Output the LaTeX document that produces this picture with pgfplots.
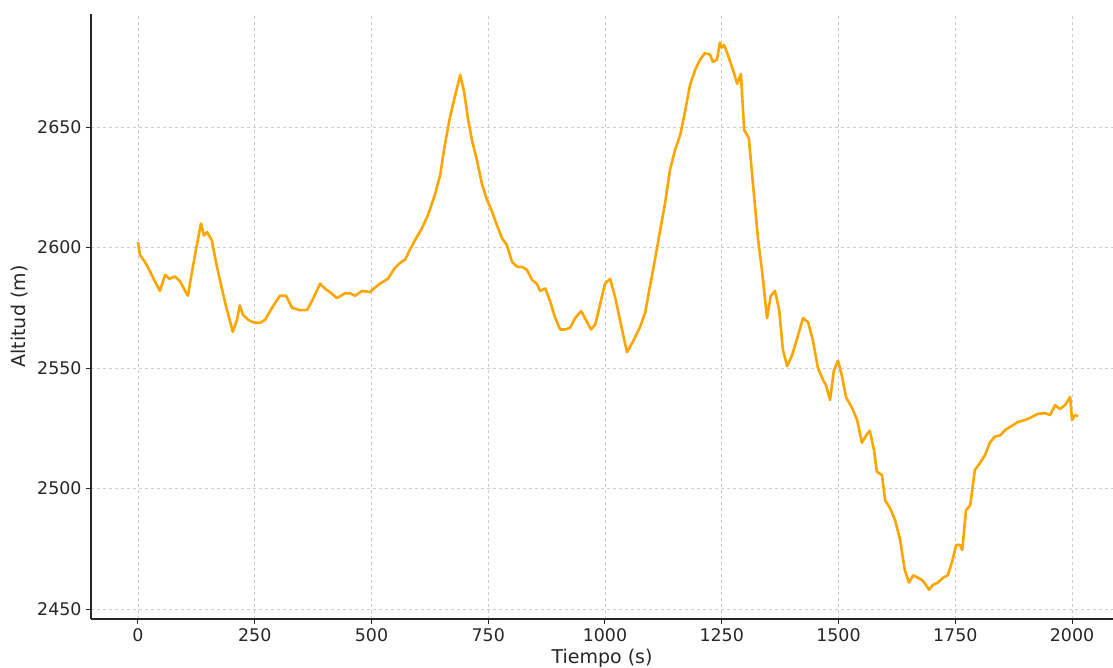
\documentclass[border=0pt]{standalone}
\usepackage{pgfplots}
\pgfplotsset{compat=1.18}
\usepackage{fontspec}
\setmainfont{DejaVu Sans}
\definecolor{txt}{HTML}{262626}
\definecolor{gridc}{HTML}{CCCCCC}
\definecolor{lineor}{HTML}{FFA500}
\newcommand{\tickfont}{\fontsize{17.4}{20}\selectfont}
\newcommand{\labfont}{\fontsize{19}{22}\selectfont}
\begin{document}
\begin{tikzpicture}
\begin{axis}[
  name=ax,
  at={(0,0)}, anchor=south west,
  scale only axis,
  width=1022pt, height=605pt,
  xmin=-100.6, xmax=2087.8,
  ymin=2445.85, ymax=2696.9,
  axis lines*=left,
  axis line style={txt, line width=1.1pt},
  xtick={0,250,500,750,1000,1250,1500,1750,2000},
  xticklabels={0,250,500,750,1000,1250,1500,1750,2000},
  ytick={2450,2500,2550,2600,2650},
  yticklabels={2450,2500,2550,2600,2650},
  tick align=outside,
  major tick length=5pt,
  tick style={txt, line width=1pt},
  grid=major,
  grid style={gridc, dashed, line width=0.7pt},
  tick label style={font=\tickfont, text=txt},
  xticklabel style={yshift=-1pt},
  yticklabel style={xshift=-1pt},
  label style={font=\labfont, text=txt},
  xlabel={Tiempo (s)},
  ylabel={Altitud (m)},
  xlabel style={at={(rel axis cs:0.5,0)}, anchor=base, yshift=-44pt},
  ylabel style={at={(rel axis cs:0,0.5)}, anchor=base, rotate=0, xshift=0pt, yshift=65pt},
  clip=false,
]
\addplot[lineor, line width=2.6pt, line join=round] coordinates {
(0,2602.3) (4,2597) (15,2594) (26,2590) (36,2586) (47,2582) (58,2588.6) (68,2587)
(79,2588) (90,2586) (101,2582) (107,2580) (113,2587) (124,2599) (135,2610) (141,2605)
(148,2606.4) (158,2603) (167,2594) (176,2586) (188,2576) (203,2565) (212,2570) (218,2576)
(225,2572) (236,2570) (246,2569) (261,2568.7) (272,2570) (287,2575) (304,2580) (317,2580)
(330,2575) (347,2574) (362,2574) (373,2578) (390,2585) (400,2583) (411,2581.5) (426,2579)
(443,2581) (454,2581) (465,2580) (480,2582) (497,2581.5) (505,2583) (518,2585) (535,2587)
(550,2591.5) (561,2593.6) (572,2595) (582,2599) (593,2603) (608,2608) (621,2613.5) (636,2622)
(647,2630) (657,2642.5) (668,2654) (679,2663) (690,2671.6) (698,2665) (707,2653) (715,2644.6)
(726,2636) (737,2626) (747,2620) (758,2615) (769,2609) (779,2604) (790,2601) (801,2594)
(812,2592) (822,2592) (833,2590.7) (844,2586.5) (854,2585) (861,2582) (872,2583) (882,2578)
(893,2571) (904,2566) (914,2566) (925,2566.6) (936,2570.7) (949,2573.6) (959,2570) (970,2566)
(979,2568) (989,2576) (1000,2585) (1011,2587) (1021,2580) (1032,2570) (1047,2556.6) (1060,2561)
(1075,2567) (1086,2573) (1096,2583.6) (1107,2595) (1118,2607) (1128,2617.6) (1139,2632) (1150,2640.5)
(1161,2646.7) (1171,2656) (1182,2667.4) (1193,2673.7) (1203,2677.8) (1214,2680.7) (1225,2680) (1231,2677)
(1240,2678) (1246,2685) (1250,2683) (1255,2684) (1263,2680) (1274,2673.7) (1283,2668) (1291,2672)
(1298,2648.8) (1308,2645.4) (1319,2621.8) (1328,2603) (1336,2590.7) (1347,2570.7) (1355,2580) (1364,2582)
(1373,2574) (1381,2557.5) (1390,2550.8) (1400,2555) (1411,2562) (1424,2570.7) (1435,2569) (1445,2561.6)
(1456,2550) (1467,2545) (1473,2543) (1482,2536.7) (1490,2549) (1499,2553) (1507,2547) (1516,2538)
(1529,2533.4) (1540,2528.4) (1550,2519) (1559,2522) (1567,2524) (1576,2516) (1582,2507) (1593,2505.6)
(1600,2495) (1610,2492) (1621,2487) (1632,2478.6) (1642,2466) (1651,2461) (1660,2464) (1670,2463)
(1679,2462) (1687,2460) (1694,2458) (1702,2460) (1713,2461) (1724,2463) (1734,2464) (1743,2469.5)
(1752,2476.6) (1760,2476.6) (1765,2474.5) (1773,2491) (1782,2493) (1792,2507.7) (1803,2510.6) (1814,2514)
(1824,2519) (1835,2521.6) (1846,2522) (1857,2524.3) (1867,2525.5) (1884,2527.6) (1899,2528.4) (1910,2529.3)
(1927,2531) (1942,2531.3) (1953,2530.5) (1964,2534.6) (1974,2533) (1985,2534.6) (1996,2538) (2000,2528.4)
(2006,2530.5) (2013,2530)
};
\end{axis}
\pgfresetboundingbox
\path ([xshift=-91pt,yshift=-48pt]ax.south west) rectangle ([yshift=14pt]ax.north east);
\end{tikzpicture}
\end{document}
